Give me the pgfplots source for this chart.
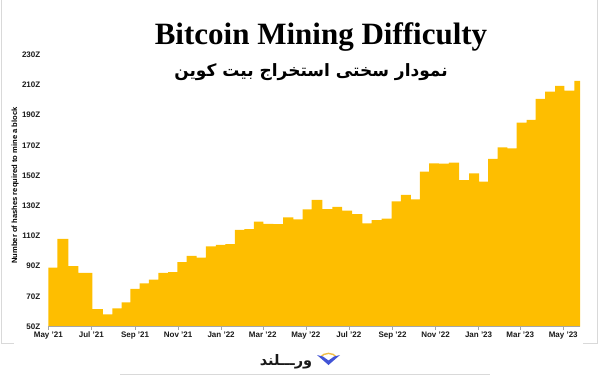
\documentclass[border=0pt]{standalone}
\usepackage{pgfplots}
\pgfplotsset{compat=1.18}
\usepackage{fontspec}
\setmainfont{Liberation Sans}
\newfontfamily\titlefont{Liberation Serif}
\newfontfamily\arabicfont[Script=Arabic]{DejaVu Sans}
\TeXXeTstate=1
\definecolor{barc}{RGB}{254,190,0}
\definecolor{logoblue}{RGB}{66,84,214}
\definecolor{logogold}{RGB}{240,190,70}
\begin{document}
\begin{tikzpicture}[x=1pt,y=1pt]
\path[use as bounding box] (0,0) rectangle (602,376);
% faint frame
\draw[gray!30, line width=0.8pt] (1,376) -- (1,33) -- (14,33);
\draw[gray!30, line width=0.8pt] (597,376) -- (597,33) -- (583,33);
\draw[gray!30, line width=0.8pt] (120,1.5) -- (490,1.5);
\begin{axis}[
  at={(48.3pt,49.5pt)}, anchor=south west,
  scale only axis, width=531.7pt, height=271.8pt,
  xmin=0, xmax=753.8, ymin=50, ymax=230,
  axis on top,
  axis x line*=bottom, axis y line*=left,
  x axis line style={gray!70, thin, -},
  y axis line style={draw=none},
  xtick={0,61,123,184,245,304,365,426,488,549,610,669,730},
  xticklabels={May '21,Jul '21,Sep '21,Nov '21,Jan '22,Mar '22,May '22,Jul '22,Sep '22,Nov '22,Jan '23,Mar '23,May '23},
  ytick={50,70,90,110,130,150,170,190,210,230},
  yticklabels={50Z,70Z,90Z,110Z,130Z,150Z,170Z,190Z,210Z,230Z},
  tick align=outside, major tick length=3pt,
  xtick style={gray!70, thin},
  ytick style={draw=none},
  tick label style={font=\bfseries\fontsize{8}{9}\selectfont, text=black!90},
  xticklabel style={yshift=1pt},
  yticklabel style={xshift=-1.5pt},
  ylabel={Number of hashes required to mine a block},
  ylabel style={at={(axis description cs:-0.0621,0.519)}, anchor=center, rotate=0, font=\bfseries\fontsize{7.6}{9}\selectfont},
]
\addplot[const plot, fill=barc, draw=none] coordinates {
(0,89) (12.8,108) (28.3,90) (42.5,85.5) (62.4,61.5) (77.5,58) (90.7,62) (104,66)
(116.2,75) (129.6,78.5) (142.7,81) (155.9,85.5) (170,86) (182.9,92.7) (196.2,96.7)
(210.3,95.6) (223.5,103) (237.7,104) (251,104.5) (264.6,114) (278,114.5) (291.6,119.4)
(304.8,118) (319,117.8) (333,122.3) (347.3,121) (360.6,127.6) (373.4,133.8) (388.4,127.8)
(402.6,129.3) (416.7,126.7) (430.9,124.5) (445.1,118.3) (458.4,120.5) (472.6,121.4)
(486.7,132.9) (499.9,137.1) (514.1,134.2) (526.9,152.5) (540,158) (553.8,157.8)
(568,158.5) (582.6,147) (596.7,151.4) (610.9,145.9) (623.7,161) (637,168.7)
(650.9,168) (664,185) (678.1,186.8) (690.9,200.8) (704.5,205.5) (718.6,209.3)
(731.7,206.2) (745.9,212.7) (753.8,212.7)
} \closedcycle;
\end{axis}
\node[font=\titlefont\bfseries\fontsize{31}{34}\selectfont, anchor=base] at (321,332) {Bitcoin Mining Difficulty};
\node[font=\arabicfont\bfseries\fontsize{17}{20}\selectfont] at (311,304) {\beginR نمودار سختی استخراج بیت کوین\endR};
% logo
\node[font=\arabicfont\bfseries\fontsize{14.5}{16}\selectfont, text=black!90] at (286,14.5) {\beginR ورـــلند\endR};
\draw[logogold, line width=1.4pt] (320,18.5) .. controls (324,24) and (333,24) .. (337,18.5);
\fill[logoblue] (317,21) -- (328.5,11) -- (340,21) -- (334,19.5) -- (328.5,15.5) -- (323,19.5) -- cycle;
\end{tikzpicture}
\end{document}
